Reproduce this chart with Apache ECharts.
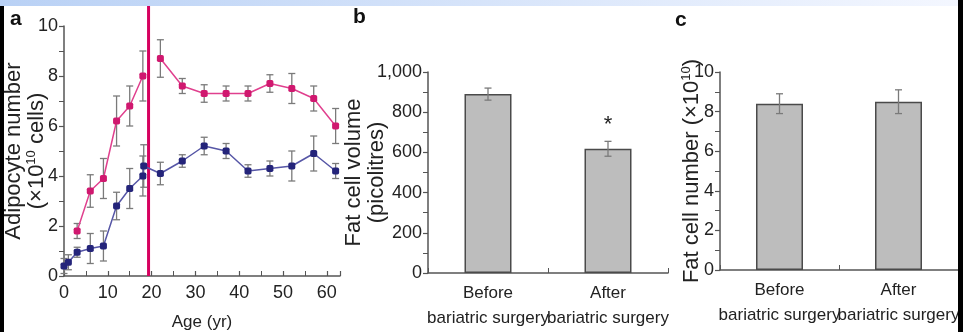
<!DOCTYPE html>
<html>
<head>
<meta charset="utf-8">
<script src="https://cdn.jsdelivr.net/npm/echarts@6/dist/echarts.min.js"></script>
<style>
html,body{margin:0;padding:0;background:#fff;}
#chart{width:963px;height:332px;}
</style>
</head>
<body>
<div id="chart"></div>
<script>
// ---------- Panel a: adipocyte number vs age ----------
const pinkAge  = [3, 6, 9, 12, 15, 18, 22, 27, 32, 37, 42, 47, 52, 57, 62];
const pinkMean = [1.8, 3.4, 3.9, 6.2, 6.8, 8.0, 8.7, 7.6, 7.3, 7.3, 7.3, 7.7, 7.5, 7.1, 6.0];
const pinkErr  = [0.3, 0.65, 0.8, 1.0, 0.8, 1.0, 0.75, 0.3, 0.35, 0.3, 0.3, 0.35, 0.6, 0.5, 0.7];
const pinkBreakAge = 20;

const blueAge  = [0, 1, 3, 6, 9, 12, 15, 18, 18.2, 22, 27, 32, 37, 42, 47, 52, 57, 62];
const blueMean = [0.4, 0.55, 0.95, 1.1, 1.2, 2.8, 3.5, 4.0, 4.4, 4.1, 4.6, 5.2, 5.0, 4.2, 4.3, 4.4, 4.9, 4.2];
const blueErr  = [0.3, 0.3, 0.2, 0.6, 0.6, 0.55, 0.8, 0.8, 0.85, 0.45, 0.25, 0.35, 0.3, 0.25, 0.3, 0.6, 0.7, 0.3];

const redLine = [19.3, 0, 10.85];   // age, from, to

const xTicksA = [0, 10, 20, 30, 40, 50, 60];

// ---------- Panel b: fat cell volume ----------
const catsB = ['Before\nbariatric surgery', 'After\nbariatric surgery'];
const volMean = [890, 618];
const volErr  = [30, 37];
const volSig  = ['', '*'];

// ---------- Panel c: fat cell number ----------
const catsC = ['Before\nbariatric surgery', 'After\nbariatric surgery'];
const numMean = [8.4, 8.5];
const numErr  = [0.5, 0.6];

const SANS = "'Liberation Sans',Arial,sans-serif";
const AXIS_COL = '#555';
const ERR_COL = '#7a7a7a';

function errRender(sig){
  return function(params, api){
    const x = api.value(0), lo = api.value(1), hi = api.value(2);
    const p1 = api.coord([x, lo]), p2 = api.coord([x, hi]);
    const w = 3.5;
    const st = {stroke: ERR_COL, lineWidth: 1.3};
    const ch = [
      {type:'line', shape:{x1:p1[0], y1:p1[1], x2:p2[0], y2:p2[1]}, style:st},
      {type:'line', shape:{x1:p1[0]-w, y1:p1[1], x2:p1[0]+w, y2:p1[1]}, style:st},
      {type:'line', shape:{x1:p2[0]-w, y1:p2[1], x2:p2[0]+w, y2:p2[1]}, style:st}
    ];
    if (sig && sig[params.dataIndex]) {
      ch.push({type:'text', style:{text: sig[params.dataIndex], x:p2[0], y:p2[1]-5,
        align:'center', verticalAlign:'bottom', font:'22px ' + SANS, fill:'#222'}});
    }
    return {type:'group', children: ch};
  };
}

const errA_pink = pinkAge.map((a,i)=>[a, pinkMean[i]-pinkErr[i], pinkMean[i]+pinkErr[i]]);
const errA_blue = blueAge.map((a,i)=>[a, blueMean[i]-blueErr[i], blueMean[i]+blueErr[i]]);
const pinkSeg1 = pinkAge.map((a,i)=>[a, pinkMean[i]]).filter(d=>d[0] < pinkBreakAge);
const pinkSeg2 = pinkAge.map((a,i)=>[a, pinkMean[i]]).filter(d=>d[0] > pinkBreakAge);
const blueData = blueAge.map((a,i)=>[a, blueMean[i]]);
const errB = volMean.map((m,i)=>[i, m-volErr[i], m+volErr[i]]);
const errC = numMean.map((m,i)=>[i, m-numErr[i], m+numErr[i]]);

const axisLine = {show:true, lineStyle:{color:AXIS_COL, width:1.5}};
const tickOut = {show:true, inside:false, length:5, lineStyle:{color:AXIS_COL, width:1.2}};
const tickIn = {show:true, inside:true, length:5, lineStyle:{color:AXIS_COL, width:1.2}};
const lblStyle = {color:'#222', fontFamily:SANS, fontSize:17};
const nameStyle = {color:'#222', fontFamily:SANS, fontSize:22, lineHeight:23,
  rich:{n:{fontFamily:SANS, fontSize:22, lineHeight:23, color:'#222'},
        s:{fontFamily:SANS, fontSize:13, lineHeight:23, color:'#222', padding:[0,0,10,0]}}};

const chart = echarts.init(document.getElementById('chart'), null, {renderer:'canvas'});
const pink = '#e0408e', pinkDark = '#d0186f';
const blue = '#5656a6', blueDark = '#24247a';

chart.setOption({
  animation:false,
  backgroundColor:'#ffffff',
  grid:[
    {left:64, top:26, width:276, height:250, outerBoundsMode:'none', containLabel:false},
    {left:428, top:72, width:240, height:201, outerBoundsMode:'none', containLabel:false},
    {left:720, top:72, width:238, height:198, outerBoundsMode:'none', containLabel:false}
  ],
  xAxis:[
    {gridIndex:0, type:'value', min:0, max:63, interval:10,
      axisLine, axisTick:tickIn, minorTick:{show:true, splitNumber:2, length:5, lineStyle:{color:AXIS_COL}},
      splitLine:{show:false}, minorSplitLine:{show:false},
      axisLabel:{...lblStyle, fontSize:18, margin:8, showMaxLabel:false,
        formatter:v => xTicksA.indexOf(v) >= 0 ? String(v) : ''},
      name:'Age (yr)', nameLocation:'middle', nameGap:38, nameMoveOverlap:false,
      nameTextStyle:{color:'#222', fontFamily:SANS, fontSize:17}},
    {gridIndex:1, type:'category', data:catsB, boundaryGap:true,
      axisLine, axisTick:{show:true, inside:true, length:5, lineStyle:{color:AXIS_COL}},
      axisLabel:{...lblStyle, interval:0, hideOverlap:false, margin:8, lineHeight:25}},
    {gridIndex:2, type:'category', data:catsC, boundaryGap:true,
      axisLine, axisTick:{show:true, inside:true, length:5, lineStyle:{color:AXIS_COL}},
      axisLabel:{...lblStyle, interval:0, hideOverlap:false, margin:8, lineHeight:25}}
  ],
  yAxis:[
    {gridIndex:0, type:'value', min:0, max:10, interval:2,
      axisLine, axisTick:tickOut, minorTick:{show:true, splitNumber:2, length:5, lineStyle:{color:AXIS_COL}},
      splitLine:{show:false}, axisLabel:{...lblStyle, fontSize:18, margin:6},
      name:'{n|Adipocyte number}\n{n|(×10}{s|10}{n| cells)}', nameLocation:'middle', nameGap:16, nameRotate:90,
      nameMoveOverlap:false, nameTextStyle:nameStyle},
    {gridIndex:1, type:'value', min:0, max:1000, interval:200,
      axisLine, axisTick:tickOut, minorTick:{show:true, splitNumber:2, length:5, lineStyle:{color:AXIS_COL}},
      splitLine:{show:false},
      axisLabel:{...lblStyle, fontSize:18, margin:6, formatter:v => v.toLocaleString('en-US')},
      name:'{n|Fat cell volume}\n{n|(picolitres)}', nameLocation:'middle', nameGap:40, nameRotate:90,
      nameMoveOverlap:false, nameTextStyle:nameStyle},
    {gridIndex:2, type:'value', min:0, max:10, interval:2,
      axisLine, axisTick:tickOut, minorTick:{show:true, splitNumber:2, length:5, lineStyle:{color:AXIS_COL}},
      splitLine:{show:false}, axisLabel:{...lblStyle, fontSize:18, margin:6},
      name:'{n|Fat cell number (×10}{s|10}{n|)}', nameLocation:'middle', nameGap:17, nameRotate:90,
      nameMoveOverlap:false, nameTextStyle:nameStyle}
  ],
  series:[
    {type:'custom', xAxisIndex:0, yAxisIndex:0, clip:false, silent:true, z:1,
      renderItem:(params, api)=>{
        const a = api.coord([api.value(0), api.value(1)]);
        const b = api.coord([api.value(0), api.value(2)]);
        return {type:'line', shape:{x1:a[0], y1:a[1], x2:b[0], y2:b[1]},
          style:{stroke:'#d6005f', lineWidth:3}};
      }, data:[redLine]},
    {type:'custom', xAxisIndex:0, yAxisIndex:0, renderItem:errRender(), data:errA_pink, z:2, silent:true},
    {type:'custom', xAxisIndex:0, yAxisIndex:0, renderItem:errRender(), data:errA_blue, z:2, silent:true},
    {type:'line', xAxisIndex:0, yAxisIndex:0, data:pinkSeg1, symbol:'roundRect', symbolSize:7,
      lineStyle:{color:pink, width:1.5}, itemStyle:{color:pinkDark}, z:3},
    {type:'line', xAxisIndex:0, yAxisIndex:0, data:pinkSeg2, symbol:'roundRect', symbolSize:7,
      lineStyle:{color:pink, width:1.5}, itemStyle:{color:pinkDark}, z:3},
    {type:'line', xAxisIndex:0, yAxisIndex:0, data:blueData, symbol:'roundRect', symbolSize:7,
      lineStyle:{color:blue, width:1.5}, itemStyle:{color:blueDark}, z:3},
    {type:'bar', xAxisIndex:1, yAxisIndex:1, data:volMean, barWidth:47,
      itemStyle:{color:'#bdbdbd', borderColor:'#4a4a4a', borderWidth:1.5}},
    {type:'custom', xAxisIndex:1, yAxisIndex:1, renderItem:errRender(volSig), data:errB, z:4, clip:false},
    {type:'bar', xAxisIndex:2, yAxisIndex:2, data:numMean, barWidth:47,
      itemStyle:{color:'#bdbdbd', borderColor:'#4a4a4a', borderWidth:1.5}},
    {type:'custom', xAxisIndex:2, yAxisIndex:2, renderItem:errRender(), data:errC, z:4}
  ],
  graphic:[
    {type:'rect', left:0, top:0, shape:{width:963, height:6}, z:100,
      style:{fill:new echarts.graphic.LinearGradient(0,0,1,0,[{offset:0,color:'#b9d1f5'},{offset:1,color:'#f4f7ff'}])}},
    {type:'rect', left:0, top:6, shape:{width:4, height:326}, style:{fill:'#000'}, z:100},
    {type:'rect', left:958, top:0, shape:{width:5, height:332}, style:{fill:'#000'}, z:100},
    {type:'text', left:10, top:9, style:{text:'a', font:'bold 21px ' + SANS, fill:'#111'}},
    {type:'text', left:353, top:7, style:{text:'b', font:'bold 21px ' + SANS, fill:'#111'}},
    {type:'text', left:675, top:10, style:{text:'c', font:'bold 21px ' + SANS, fill:'#111'}}
  ]
});
</script>
</body>
</html>
